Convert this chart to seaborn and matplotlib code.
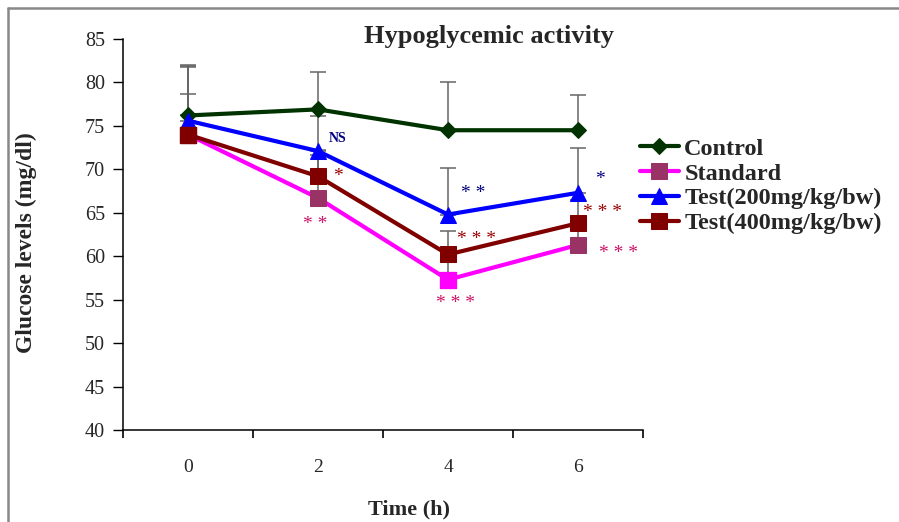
import numpy as np
import matplotlib.pyplot as plt
import seaborn as sns
from matplotlib.lines import Line2D

# --- data ---
time_labels = ['0', '2', '4', '6']
series_names = ['Control', 'Standard', 'Test(200mg/kg/bw)', 'Test(400mg/kg/bw)']

control = [76.2, 76.9, 74.5, 74.5]
standard = [74.0, 66.7, 57.3, 61.3]
test200 = [75.6, 72.1, 64.8, 67.3]
test400 = [74.0, 69.2, 60.2, 63.8]

control_err = [5.8, 4.3, 5.6, 4.1]
standard_err = [7.9, 5.0, 2.9, 2.4]
test200_err = [3.1, 4.0, 5.3, 5.2]
test400_err = [7.8, 3.0, 2.7, 2.7]

# significance marks: (series, time index, text, x offset, y)
sig_series = ['Test200', 'Test400', 'Standard',
              'Test200', 'Test400', 'Standard',
              'Test200', 'Test400', 'Standard']
sig_idx = [1, 1, 1, 2, 2, 2, 3, 3, 3]
sig_text = ['NS', '*', '* *', '* *', '* * *', '* * *', '*', '* * *', '* * *']
sig_dx = [0.15, 0.15, -0.02, 0.19, 0.22, 0.06, 0.17, 0.19, 0.31]
sig_y = [73.6, 69.2, 63.6, 67.2, 61.9, 54.6, 68.8, 65.0, 60.3]

# --- styling ---
line_colors = {'Control': '#003300', 'Standard': '#FF00FF',
               'Test200': '#0000FF', 'Test400': '#800000'}
marker_colors = {'Control': '#003300', 'Standard': '#993366',
                 'Test200': '#0000FF', 'Test400': '#800000'}
markers = {'Control': 'D', 'Standard': 's', 'Test200': '^', 'Test400': 's'}
msizes = {'Control': 8, 'Standard': 11, 'Test200': 11, 'Test400': 11}
sig_colors = {'Test200': '#000080', 'Test400': '#990000', 'Standard': '#CC1166'}
standard_point_colors = ['#993366', '#993366', '#FF00FF', '#993366']

sns.set_theme(style='ticks')
plt.rcParams['font.family'] = ['Liberation Serif', 'DejaVu Serif']

fig = plt.figure(figsize=(8.99, 5.22), dpi=100)
ax = fig.add_axes([123 / 899, 1 - 430 / 522, 520 / 899, 391 / 522])

x = np.arange(len(time_labels))
keys = ['Control', 'Standard', 'Test200', 'Test400']
values = dict(zip(keys, [control, standard, test200, test400]))
errors = dict(zip(keys, [control_err, standard_err, test200_err, test400_err]))

# error bars (plus only), under the lines
for k in keys:
    eb = ax.errorbar(x, values[k], yerr=[np.zeros(len(x)), errors[k]], fmt='none',
                     ecolor='#666666', elinewidth=1.1, capsize=6, capthick=1.1, zorder=1)
    for cap in eb[1]:
        cap.set_color('black')

for k, name in zip(keys, series_names):
    sns.lineplot(x=x, y=values[k], ax=ax, color=line_colors[k], lw=3,
                 marker=markers[k], markersize=msizes[k],
                 markerfacecolor=marker_colors[k], markeredgecolor=marker_colors[k],
                 label=name, zorder=3)

# the Standard point at 4 h is filled magenta in the reference
sns.scatterplot(x=x[2:3], y=standard[2:3], ax=ax, marker='s', s=130,
                color=standard_point_colors[2], edgecolor=standard_point_colors[2],
                zorder=4, legend=False)
ax.plot(x[:1], test400[:1], marker='s', markersize=11, color=marker_colors['Test400'], zorder=5)

for s, i, t, dx, yy in zip(sig_series, sig_idx, sig_text, sig_dx, sig_y):
    if t == 'NS':
        ax.text(x[i] + dx, yy, t, color=sig_colors[s], fontsize=10, fontweight='bold',
                ha='center', va='center', zorder=6)
    else:
        ax.text(x[i] + dx, yy, t, color=sig_colors[s], fontsize=14,
                ha='center', va='center', zorder=6)

ax.set_ylim(40, 85)
ax.set_yticks(np.arange(40, 86, 5))
ax.set_xlim(-0.5, len(x) - 0.5)
ax.set_xticks(x)
ax.set_xticklabels(time_labels)
ax.set_xticks(np.arange(-0.5, len(x), 1), minor=True)
ax.tick_params(axis='x', which='major', length=0, pad=21, labelsize=14)
ax.tick_params(axis='x', which='minor', length=6, width=1.2, color='black', direction='out')
ax.tick_params(axis='y', length=7, width=1, color='black', pad=6, labelsize=14.5, direction='out')
for sp in ['top', 'right']:
    ax.spines[sp].set_visible(False)
for sp in ['left', 'bottom']:
    ax.spines[sp].set_color('black')
    ax.spines[sp].set_linewidth(1.1)

ax.set_xlabel('Time (h)', fontsize=16, fontweight='bold')
ax.xaxis.set_label_coords(0.55, -0.178)
ax.set_ylabel('Glucose levels (mg/dl)', fontsize=17, fontweight='bold')
ax.yaxis.set_label_coords(-0.165, 0.48)
fig.text(489 / 899, 1 - 36 / 522, 'Hypoglycemic activity', ha='center', va='center',
         fontsize=19, fontweight='bold')

ax.legend(loc='center left', bbox_to_anchor=(640 / 899, 1 - 186 / 522),
          bbox_transform=fig.transFigure, frameon=False, borderpad=0, borderaxespad=0,
          handlelength=1.6, handletextpad=0.22, labelspacing=0.12,
          prop={'family': 'Liberation Serif', 'weight': 'bold', 'size': 17.5})

# outer chart frame (top and left edges visible)
fig.add_artist(Line2D([8 / 899, 8 / 899], [0, 1 - 8 / 522], color='#888888', lw=1.8))
fig.add_artist(Line2D([8 / 899, 1], [1 - 8 / 522, 1 - 8 / 522], color='#888888', lw=1.8))

fig.savefig('out.png', dpi=100)
